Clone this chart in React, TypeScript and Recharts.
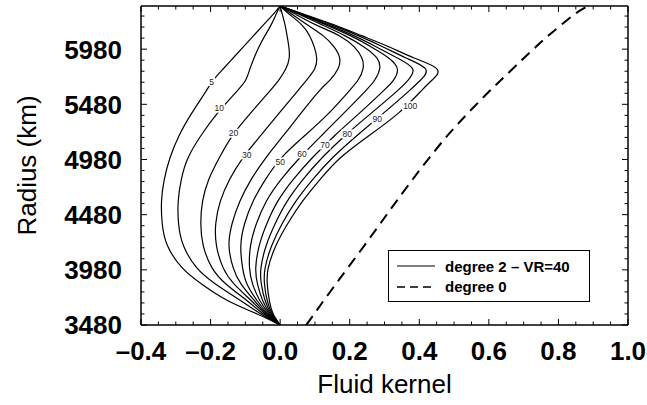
import { ComposedChart, Line, XAxis, YAxis, ReferenceDot } from "recharts";

// radius grid (km), CMB to surface
const radii = [3480, 3580, 3700, 3850, 4000, 4200, 4400, 4600, 4800, 5000, 5200, 5400, 5600, 5700, 5800, 5900, 6000, 6100, 6200, 6300, 6371];

// degree 2 fluid kernels, VR=40, one curve per label
const k5 = [0, -0.066, -0.15, -0.225, -0.282, -0.324, -0.339, -0.341, -0.333, -0.316, -0.29, -0.254, -0.213, -0.192, -0.164, -0.135, -0.106, -0.077, -0.048, -0.019, 0];
const k10 = [0, -0.055, -0.113, -0.185, -0.24, -0.278, -0.292, -0.293, -0.284, -0.264, -0.227, -0.18, -0.124, -0.099, -0.087, -0.075, -0.061, -0.044, -0.026, -0.011, 0];
const k20 = [0, -0.048, -0.095, -0.155, -0.196, -0.221, -0.228, -0.223, -0.205, -0.174, -0.136, -0.085, -0.03, -0.004, 0.016, 0.026, 0.025, 0.02, 0.014, 0.006, 0];
const k30 = [0, -0.043, -0.083, -0.132, -0.164, -0.183, -0.185, -0.172, -0.145, -0.106, -0.055, -0.003, 0.05, 0.076, 0.099, 0.105, 0.098, 0.085, 0.062, 0.025, 0];
const k40 = [0, -0.039, -0.074, -0.112, -0.135, -0.147, -0.138, -0.116, -0.083, -0.04, 0.01, 0.06, 0.112, 0.143, 0.166, 0.171, 0.155, 0.124, 0.078, 0.032, 0];
const k50 = [0, -0.035, -0.066, -0.095, -0.108, -0.113, -0.102, -0.078, -0.042, 0.005, 0.072, 0.14, 0.198, 0.224, 0.238, 0.235, 0.213, 0.171, 0.103, 0.042, 0];
const k60 = [0, -0.031, -0.058, -0.079, -0.088, -0.085, -0.068, -0.04, 0.003, 0.058, 0.12, 0.183, 0.245, 0.272, 0.286, 0.278, 0.241, 0.187, 0.121, 0.052, 0];
const k70 = [0, -0.028, -0.05, -0.065, -0.07, -0.06, -0.038, -0.007, 0.038, 0.094, 0.158, 0.228, 0.296, 0.326, 0.337, 0.312, 0.262, 0.203, 0.132, 0.057, 0];
const k80 = [0, -0.025, -0.043, -0.054, -0.055, -0.04, -0.014, 0.02, 0.066, 0.122, 0.188, 0.262, 0.336, 0.368, 0.381, 0.337, 0.277, 0.213, 0.139, 0.059, 0];
const k90 = [0, -0.022, -0.037, -0.045, -0.043, -0.024, 0.006, 0.045, 0.094, 0.152, 0.222, 0.297, 0.37, 0.404, 0.418, 0.362, 0.296, 0.226, 0.148, 0.062, 0];
const k100 = [0, -0.02, -0.031, -0.037, -0.034, -0.012, 0.022, 0.064, 0.115, 0.175, 0.257, 0.34, 0.405, 0.437, 0.451, 0.385, 0.314, 0.236, 0.155, 0.065, 0];

// degree 0 kernel (dashed)
const degreeZero = [0.075, 0.098, 0.125, 0.16, 0.195, 0.242, 0.288, 0.334, 0.381, 0.43, 0.482, 0.54, 0.602, 0.635, 0.668, 0.701, 0.735, 0.77, 0.808, 0.848, 0.885];

// inline curve labels
const tagText = ["5", "10", "20", "30", "50", "60", "70", "80", "90", "100"];
const tagKernel = [-0.197, -0.175, -0.134, -0.096, 0.0, 0.063, 0.129, 0.193, 0.279, 0.374];
const tagRadius = [5686, 5445, 5218, 5022, 4958, 5031, 5112, 5212, 5348, 5466];

// axis ticks
const xTicks = [-0.4, -0.35, -0.3, -0.25, -0.2, -0.15, -0.1, -0.05, 0, 0.05, 0.1, 0.15, 0.2, 0.25, 0.3, 0.35, 0.4, 0.45, 0.5, 0.55, 0.6, 0.65, 0.7, 0.75, 0.8, 0.85, 0.9, 0.95, 1.0];
const xMajor = [-0.4, -0.2, 0, 0.2, 0.4, 0.6, 0.8, 1.0];
const yTicks = [3480, 3580, 3680, 3780, 3880, 3980, 4080, 4180, 4280, 4380, 4480, 4580, 4680, 4780, 4880, 4980, 5080, 5180, 5280, 5380, 5480, 5580, 5680, 5780, 5880, 5980, 6080, 6180, 6280];
const yMajor = [3480, 3980, 4480, 4980, 5480, 5980];

const solidSeries: [string, number[]][] = [
  ["k5", k5],
  ["k10", k10],
  ["k20", k20],
  ["k30", k30],
  ["k40", k40],
  ["k50", k50],
  ["k60", k60],
  ["k70", k70],
  ["k80", k80],
  ["k90", k90],
  ["k100", k100],
];

const rows = radii.map((r, i) => {
  const row: Record<string, number> = { r, k0: degreeZero[i] };
  solidSeries.forEach(([key, vals]) => {
    row[key] = vals[i];
  });
  return row;
});

const FONT = '"Liberation Sans", Arial, Helvetica, sans-serif';
const MAJOR_LEN = 6;
const MINOR_LEN = 3.5;

const isMajorX = (v: number) => xMajor.some((m) => Math.abs(m - v) < 1e-6);
const isMajorY = (v: number) => yMajor.includes(v);
const formatKernel = (v: number) => (v < -1e-9 ? "\u2013" + Math.abs(v).toFixed(1) : Math.abs(v).toFixed(1));

function BottomTick({ x, y, payload }: any) {
  const major = isMajorX(payload.value);
  return (
    <g>
      <line x1={x} x2={x} y1={y} y2={y - (major ? MAJOR_LEN : MINOR_LEN)} stroke="#000" strokeWidth={1} />
      {major && (
        <text x={x} y={y + 35} textAnchor="middle" fontFamily={FONT} fontWeight="bold" fontSize={26} fill="#000">
          {formatKernel(payload.value)}
        </text>
      )}
    </g>
  );
}

function TopTick({ x, y, payload }: any) {
  const major = isMajorX(payload.value);
  return <line x1={x} x2={x} y1={y} y2={y + (major ? MAJOR_LEN : MINOR_LEN)} stroke="#000" strokeWidth={1} />;
}

function LeftTick({ x, y, payload }: any) {
  const major = isMajorY(payload.value);
  return (
    <g>
      <line x1={x} x2={x + (major ? MAJOR_LEN : MINOR_LEN)} y1={y} y2={y} stroke="#000" strokeWidth={1} />
      {major && (
        <text x={x - 19} y={y} dy="0.36em" textAnchor="end" fontFamily={FONT} fontWeight="bold" fontSize={26} fill="#000">
          {payload.value}
        </text>
      )}
    </g>
  );
}

function RightTick({ x, y, payload }: any) {
  const major = isMajorY(payload.value);
  return <line x1={x} x2={x - (major ? MAJOR_LEN : MINOR_LEN)} y1={y} y2={y} stroke="#000" strokeWidth={1} />;
}

function CurveTag({ cx, cy, text }: { cx?: number; cy?: number; text: string }) {
  if (cx == null || cy == null) return null;
  const w = text.length * 4.8 + 2;
  return (
    <g>
      <rect x={cx - w / 2} y={cy - 4.5} width={w} height={9} fill="#fff" />
      <text x={cx} y={cy} dy="0.35em" textAnchor="middle" fontFamily={FONT} fontSize={8.5} fill="#222">
        {text}
      </text>
    </g>
  );
}

function XTitle({ viewBox }: any) {
  const vb = viewBox || { x: 141, y: 325, width: 487 };
  return (
    <text x={vb.x + vb.width / 2} y={vb.y + 68} textAnchor="middle" fontFamily={FONT} fontSize={26} fill="#000">
      Fluid kernel
    </text>
  );
}

function YTitle({ viewBox }: any) {
  const vb = viewBox || { x: 41, y: 6, height: 319 };
  const tx = vb.x - 5;
  const ty = vb.y + vb.height / 2;
  return (
    <text x={tx} y={ty} transform={`rotate(-90, ${tx}, ${ty})`} textAnchor="middle" fontFamily={FONT} fontSize={26} fill="#000">
      Radius (km)
    </text>
  );
}

function KernelLegend() {
  return (
    <svg width={647} height={405} style={{ position: "absolute", left: 0, top: 0, pointerEvents: "none" }}>
      <rect x={388.5} y={250.5} width={201} height={51} fill="#fff" stroke="#000" strokeWidth={1} />
      <line x1={397} x2={435} y1={266} y2={266} stroke="#000" strokeWidth={1} />
      <text x={445} y={272} fontFamily={FONT} fontWeight="bold" fontSize={15} fill="#000">
        degree 2 {"\u2013"} VR=40
      </text>
      <line x1={397} x2={435} y1={287} y2={287} stroke="#000" strokeWidth={1.6} strokeDasharray="8 5" />
      <text x={445} y={292} fontFamily={FONT} fontWeight="bold" fontSize={15} fill="#000">
        degree 0
      </text>
    </svg>
  );
}

export default function App() {
  return (
    <div style={{ position: "absolute", left: 0, top: 0, width: 647, height: 405, background: "#fff" }}>
      <ComposedChart
        width={647}
        height={405}
        data={rows}
        layout="vertical"
        margin={{ top: 5, right: 18, bottom: 20, left: 41 }}
      >
        <XAxis
          xAxisId="bottom"
          type="number"
          domain={[-0.4, 1.0]}
          allowDataOverflow
          ticks={xTicks}
          interval={0}
          tickSize={0}
          tickMargin={0}
          tickLine={false}
          height={60}
          axisLine={{ stroke: "#000", strokeWidth: 1.5 }}
          tick={<BottomTick />}
          label={(props: any) => <XTitle {...props} />}
        />
        <XAxis
          xAxisId="top"
          orientation="top"
          type="number"
          domain={[-0.4, 1.0]}
          allowDataOverflow
          ticks={xTicks}
          interval={0}
          tickSize={0}
          tickMargin={0}
          tickLine={false}
          height={1}
          axisLine={{ stroke: "#000", strokeWidth: 1.5 }}
          tick={<TopTick />}
        />
        <YAxis
          yAxisId="left"
          type="number"
          dataKey="r"
          domain={[3480, 6371]}
          allowDataOverflow
          reversed
          ticks={yTicks}
          interval={0}
          tickSize={0}
          tickMargin={0}
          tickLine={false}
          width={100}
          axisLine={{ stroke: "#000", strokeWidth: 1.5 }}
          tick={<LeftTick />}
          label={(props: any) => <YTitle {...props} />}
        />
        <YAxis
          yAxisId="right"
          orientation="right"
          type="number"
          dataKey="r"
          domain={[3480, 6371]}
          allowDataOverflow
          reversed
          ticks={yTicks}
          interval={0}
          tickSize={0}
          tickMargin={0}
          tickLine={false}
          width={1}
          axisLine={{ stroke: "#000", strokeWidth: 1.5 }}
          tick={<RightTick />}
        />
        {solidSeries.map(([key]) => (
          <Line
            key={key}
            xAxisId="bottom"
            yAxisId="left"
            dataKey={key}
            type="natural"
            stroke="#000"
            strokeWidth={1.2}
            dot={false}
            activeDot={false}
            isAnimationActive={false}
          />
        ))}
        <Line
          xAxisId="bottom"
          yAxisId="left"
          dataKey="k0"
          type="natural"
          stroke="#000"
          strokeWidth={2}
          strokeDasharray="11 7"
          dot={false}
          activeDot={false}
          isAnimationActive={false}
        />
        {tagText.map((t, i) => (
          <ReferenceDot
            key={t}
            xAxisId="bottom"
            yAxisId="left"
            x={tagKernel[i]}
            y={tagRadius[i]}
            r={0}
            ifOverflow="visible"
            shape={(p: any) => <CurveTag cx={p.cx} cy={p.cy} text={t} />}
          />
        ))}
      </ComposedChart>
      <KernelLegend />
    </div>
  );
}
